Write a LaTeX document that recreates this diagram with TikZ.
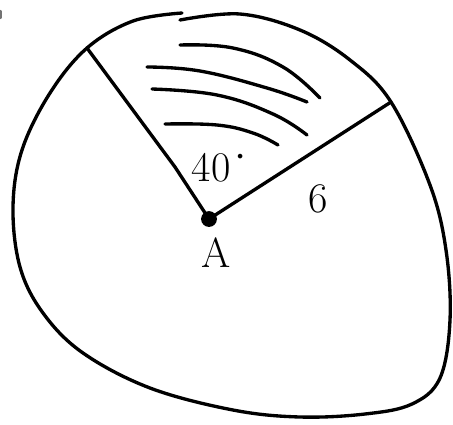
\documentclass[tikz,border=0pt]{standalone}
\usepackage{tikz}
\usetikzlibrary{positioning, calc}
\tikzset{
  sketchline/.style={
    line width=1.9pt,
    draw=black,
    line cap=round,
    line join=round
  },
  hatchline/.style={
    sketchline,
    smooth,
    tension=0.7
  },
  centredot/.style={
    circle,
    fill=black,
    inner sep=0pt,
    minimum size=9pt
  },
  handlabel/.style={
    inner sep=0pt,
    font=\fontsize{24}{28}\selectfont
  }
}

\begin{document}
\begin{tikzpicture}[x=0.02cm, y=-0.02cm]
  \useasboundingbox (0,0) rectangle (453,424);

  % centre and ends of the two radii
  \node[centredot] (A) at (209,219) {};
  \coordinate (left end) at (87,48);
  \coordinate (bend) at (175,167);
  \coordinate (right end) at (391,102);

  % outline of the circle
  \draw[sketchline] plot[smooth, tension=0.6] coordinates {
    (182,13) (133,21) (left end) (50,93) (22,150) (13,207) (20,267)
    (43,313) (83,353) (150,388) (233,410) (300,417) (365,414)
    (412,404) (440,378) (450,320) (446,250) (430,185) (right end)
    (350,60) (300,30) (240,14) (180,20)};

  % the two radii
  \draw[sketchline] (A.center) -- (bend) -- (left end);
  \draw[sketchline] (A.center) -- (right end);

  % shading of the sector
  \draw[hatchline] plot coordinates {(180,45) (233,48) (283,67) (320,98)};
  \draw[hatchline] plot coordinates {(147,67) (200,71) (267,88) (307,102)};
  \draw[hatchline] plot coordinates {(152,89) (217,95) (273,114) (307,135)};
  \draw[hatchline] plot coordinates {(165,124) (217,125) (253,133) (278,145)};

  % stray mark at the edge
  \draw[sketchline, draw=black!55, line width=1.2pt] (0.5,11) -- (0.5,18);

  % labels
  \node[handlabel] (angle) at (211,168) {40};
  \node[handlabel, right=2pt of angle.north east, anchor=north west, yshift=3pt] (deg) {$\cdot$};
  \node[handlabel] (radius) at (318,199) {6};
  \node[handlabel, below=6pt of A, xshift=4pt] (name) {A};
\end{tikzpicture}
\end{document}
